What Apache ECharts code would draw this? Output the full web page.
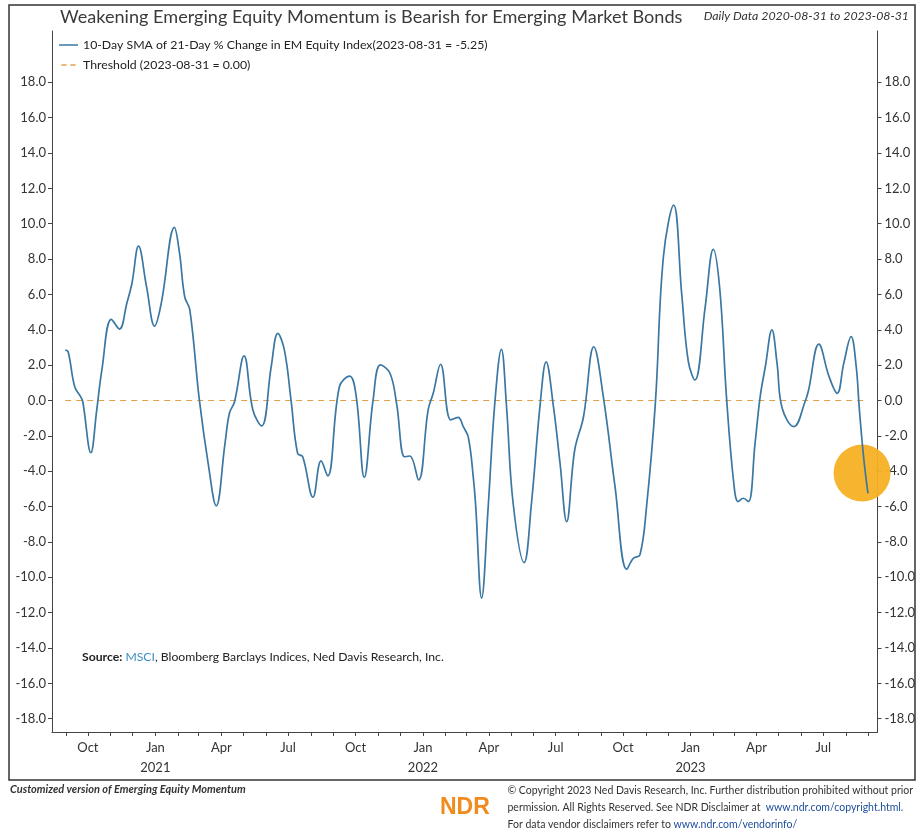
<!DOCTYPE html>
<html>
<head>
<meta charset="utf-8">
<script src="https://cdn.jsdelivr.net/npm/echarts@6/dist/echarts.min.js"></script>
<style>
html, body { margin: 0; padding: 0; background: #fff; }
#main { width: 918px; height: 829px; }
</style>
</head>
<body>
<div id="main"></div>
<script>
// 10-day SMA of 21-day % change
var dates = [
  '2020-08-31','2020-09-04','2020-09-13','2020-09-21','2020-09-24','2020-10-05','2020-10-13','2020-10-20',
  '2020-11-02','2020-11-13','2020-11-23','2020-11-30','2020-12-09','2020-12-20','2020-12-31',
  '2021-01-09','2021-01-27','2021-02-03','2021-02-10','2021-02-17','2021-03-02','2021-03-14','2021-03-25',
  '2021-04-06','2021-04-12','2021-04-19','2021-05-02','2021-05-14','2021-05-26','2021-06-08','2021-06-17',
  '2021-06-26','2021-07-05','2021-07-14','2021-07-21','2021-08-04','2021-08-15','2021-08-24','2021-09-09',
  '2021-09-23','2021-10-02','2021-10-13','2021-10-25','2021-11-04','2021-11-17','2021-11-26','2021-12-07',
  '2021-12-14','2021-12-26','2022-01-08','2022-01-15','2022-01-25','2022-02-08','2022-02-18','2022-02-25',
  '2022-03-04','2022-03-11','2022-03-14','2022-03-22','2022-03-31','2022-04-09','2022-04-18','2022-04-25',
  '2022-05-04','2022-05-19','2022-05-29','2022-06-10','2022-06-18','2022-06-28','2022-07-07','2022-07-16',
  '2022-07-27','2022-08-08','2022-08-22','2022-09-04','2022-09-20','2022-10-06','2022-10-15','2022-10-24',
  '2022-11-02','2022-11-14','2022-11-25','2022-12-09','2022-12-20','2022-12-29','2023-01-07','2023-01-21',
  '2023-02-01','2023-02-10','2023-02-19','2023-03-01','2023-03-07','2023-03-14','2023-03-21','2023-03-30',
  '2023-04-06','2023-04-13','2023-04-22','2023-04-29','2023-05-06','2023-05-22','2023-06-07','2023-06-11',
  '2023-06-25','2023-07-09','2023-07-20','2023-07-29','2023-08-08','2023-08-15','2023-08-19','2023-08-25',
  '2023-08-31'
];
var momentum = [
  2.85, 2.76, 0.78, 0.22, -0.07, -2.95, -0.54, 1.72,
  4.59, 4.04, 5.49, 6.62, 8.73, 6.43, 4.21,
  5.49, 9.79, 8.32, 5.87, 5.12, 0.03, -3.55, -5.96,
  -2.42, -0.72, -0.07, 2.52, -0.54, -1.44, 1.91, 3.80,
  2.85, 0.03, -2.99, -3.18, -5.47, -3.42, -4.27, 0.78,
  1.38, 0.22, -4.34, 0.03, 2.01, 1.54, -0.16, -3.18,
  -3.14, -4.49, -0.54, 0.41, 2.05, -1.10, -0.95, -1.48,
  -2.10, -4.49, -6.00, -11.18, -6.00, -0.16, 2.89, -0.35,
  -5.81, -9.17, -5.81, -0.16, 2.19, -0.35, -3.55, -6.85,
  -2.80, -0.92, 3.04, 0.22, -4.87, -9.55, -8.92, -8.73,
  -6.00, -0.16, 8.13, 11.05, 6.00, 2.20, 1.16, 5.30,
  8.55, 6.25, 0.22, -4.68, -5.72, -5.53, -5.72, -2.42,
  0.22, 1.91, 3.99, 2.10, -0.44, -1.48, 0.03, 0.59,
  3.19, 1.35, 0.41, 2.10, 3.61, 1.91, -0.35, -3.18,
  -5.25
];
var threshold = 0;
var highlight = ['2023-08-23', -4.1];

var yTicks = [-18, -16, -14, -12, -10, -8, -6, -4, -2, 0, 2, 4, 6, 8, 10, 12, 14, 16, 18];
var monthTicks = [
  '2020-09-01','2020-10-01','2020-11-01','2020-12-01','2021-01-01','2021-02-01','2021-03-01','2021-04-01',
  '2021-05-01','2021-06-01','2021-07-01','2021-08-01','2021-09-01','2021-10-01','2021-11-01','2021-12-01',
  '2022-01-01','2022-02-01','2022-03-01','2022-04-01','2022-05-01','2022-06-01','2022-07-01','2022-08-01',
  '2022-09-01','2022-10-01','2022-11-01','2022-12-01','2023-01-01','2023-02-01','2023-03-01','2023-04-01',
  '2023-05-01','2023-06-01','2023-07-01','2023-08-01','2023-09-01'
];
var quarterLabels = [
  '2020-10-01','2021-01-01','2021-04-01','2021-07-01','2021-10-01','2022-01-01',
  '2022-04-01','2022-07-01','2022-10-01','2023-01-01','2023-04-01','2023-07-01'
];
var monthNames = ['Jan','Feb','Mar','Apr','May','Jun','Jul','Aug','Sep','Oct','Nov','Dec'];

function toTs(s) {
  var p = s.split('-');
  return new Date(+p[0], +p[1] - 1, +p[2]).getTime();
}

var lineData = dates.map(function (d, i) { return [toTs(d), momentum[i]]; });
var thresholdData = [[toTs(dates[0]), threshold], [toTs(dates[dates.length - 1]), threshold]];

var seriesName = '10-Day SMA of 21-Day % Change in EM Equity Index(2023-08-31 = ' + momentum[momentum.length - 1].toFixed(2) + ')';
var thresholdName = 'Threshold (2023-08-31 = ' + threshold.toFixed(2) + ')';

var font = 'Lato, "Open Sans", sans-serif';
var lineColor = '#3A77A2';
var dashColor = '#E3A04A';

var yAxisBase = {
  type: 'value',
  min: -18.75,
  max: 20.9,
  splitLine: { show: false },
  axisLine: { show: true, onZero: false, lineStyle: { color: '#444', width: 1 } },
  axisTick: { show: true, length: 4, customValues: yTicks, lineStyle: { color: '#444' } },
  axisLabel: {
    customValues: yTicks,
    color: '#333', fontSize: 13, fontFamily: font,
    formatter: function (v) { return Number(v).toFixed(1); }
  }
};

var option = {
  backgroundColor: '#fff',
  animation: false,
  grid: { left: 52, right: 40, top: 31, bottom: 97 },
  legend: {
    orient: 'vertical',
    left: 54, top: 34,
    itemGap: 8,
    itemWidth: 19, itemHeight: 1.5,
    data: [
      { name: seriesName, icon: 'rect', itemStyle: { color: lineColor } },
      { name: thresholdName, icon: 'path://M0,0h7v2h-7z M12,0h7v2h-7z', itemStyle: { color: dashColor } }
    ],
    textStyle: { color: '#222', fontSize: 12.3, fontFamily: font }
  },
  xAxis: {
    type: 'value',
    min: toTs('2020-08-13'),
    max: toTs('2023-09-13'),
    splitLine: { show: false },
    axisLine: { onZero: false, lineStyle: { color: '#444', width: 1 } },
    axisTick: { show: true, length: 4, customValues: monthTicks.map(toTs), lineStyle: { color: '#444' } },
    axisLabel: {
      customValues: quarterLabels.map(toTs),
      color: '#333', fontSize: 13, fontFamily: font, lineHeight: 20, margin: 6,
      formatter: function (v) {
        var d = new Date(v);
        var m = monthNames[d.getMonth()];
        return d.getMonth() === 0 ? m + '\n' + d.getFullYear() : m;
      }
    }
  },
  yAxis: [
    Object.assign({}, yAxisBase, { position: 'left', axisLabel: Object.assign({}, yAxisBase.axisLabel, { margin: 6 }) }),
    Object.assign({}, yAxisBase, { position: 'right', axisLabel: Object.assign({}, yAxisBase.axisLabel, { margin: 7 }) })
  ],
  series: [
    {
      name: 'highlight',
      type: 'scatter',
      data: [[toTs(highlight[0]), highlight[1]]],
      symbolSize: 57,
      itemStyle: { color: '#F6B024', opacity: 0.95 },
      silent: true,
      z: 1
    },
    {
      name: thresholdName,
      type: 'line',
      data: thresholdData,
      symbol: 'none',
      lineStyle: { color: dashColor, width: 1.2, type: [6, 5] },
      itemStyle: { color: dashColor },
      z: 2
    },
    {
      name: seriesName,
      type: 'line',
      data: lineData,
      symbol: 'none',
      smooth: 0.4,
      lineStyle: { color: lineColor, width: 1.7 },
      itemStyle: { color: lineColor },
      z: 3
    }
  ],
  graphic: [
    { type: 'rect', shape: { x: 9, y: 5, width: 906, height: 775 }, style: { fill: 'none', stroke: '#333', lineWidth: 1.5 }, z: -1 },
    { type: 'text', left: 60, top: 8, style: { text: 'Weakening Emerging Equity Momentum is Bearish for Emerging Market Bonds', fontSize: 18.1, fontFamily: font, fill: '#3a3a3a' } },
    { type: 'text', right: 9, top: 10, style: { text: 'Daily Data 2020-08-31 to 2023-08-31', fontSize: 12.3, fontStyle: 'italic', fontFamily: font, fill: '#333' } },
    {
      type: 'text', left: 82, top: 651,
      style: {
        text: '{b|Source:} {m|MSCI}, Bloomberg Barclays Indices, Ned Davis Research, Inc.',
        fontSize: 12.2, fontFamily: font, fill: '#222',
        rich: {
          b: { fontWeight: 'bold', fontSize: 12.2, fontFamily: font, fill: '#222' },
          m: { fontSize: 12.2, fontFamily: font, fill: '#3D8FC8' }
        }
      }
    },
    { type: 'text', left: 10, top: 784, style: { text: 'Customized version of Emerging Equity Momentum', fontSize: 11, fontWeight: 'bold', fontStyle: 'italic', fontFamily: font, fill: '#333' } },
    { type: 'text', left: 440, top: 796, style: { text: 'NDR', fontSize: 23, fontWeight: 'bold', fontFamily: '"Liberation Sans", Arial, sans-serif', fill: '#F08C1E' } },
    {
      type: 'text', right: 5, top: 782,
      style: {
        text: '© Copyright 2023 Ned Davis Research, Inc. Further distribution prohibited without prior\npermission. All Rights Reserved. See NDR Disclaimer at  {u|www.ndr.com/copyright.html.}\nFor data vendor disclaimers refer to {u|www.ndr.com/vendorinfo/}',
        align: 'right',
        fontSize: 10.5, lineHeight: 17.2, fontFamily: font, fill: '#333',
        rich: { u: { fontSize: 10.5, lineHeight: 17.2, fontFamily: font, fill: '#1F4E9C' } }
      }
    }
  ]
};

var myChart = echarts.init(document.getElementById('main'));
myChart.setOption(option);
</script>
</body>
</html>
